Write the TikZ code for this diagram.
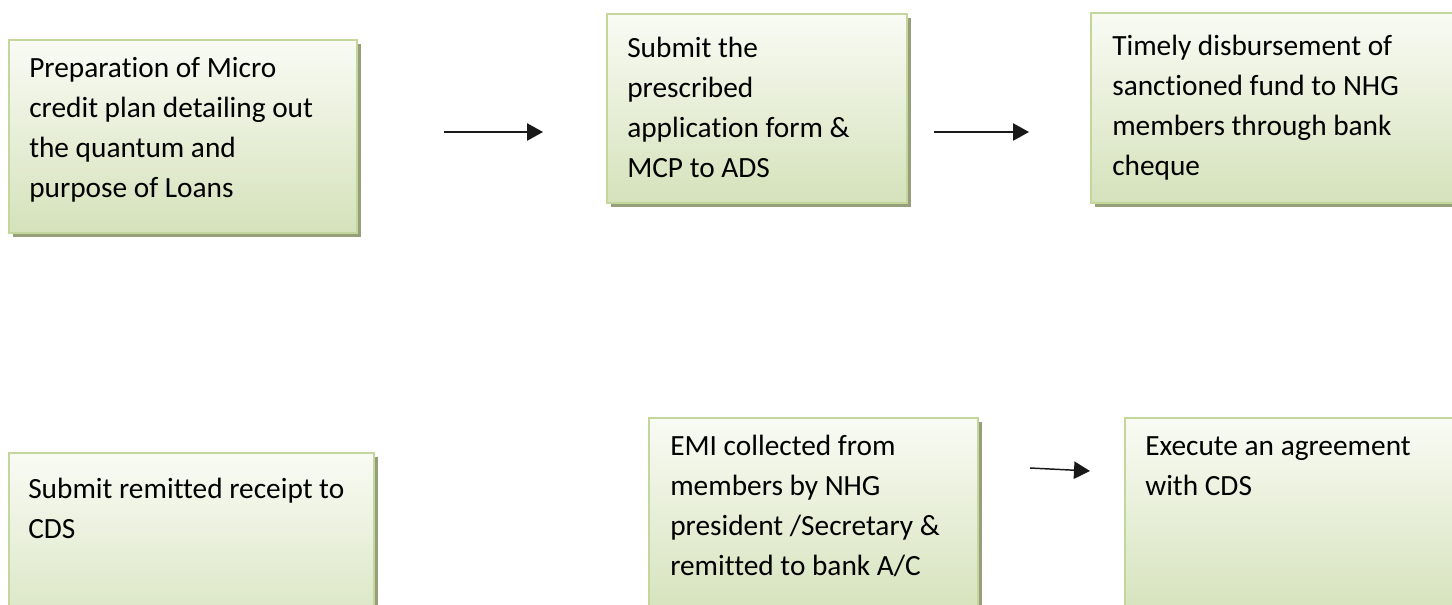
\documentclass[tikz,border=0pt]{standalone}
\usepackage{fontspec}
\setmainfont{Carlito}[Ligatures=NoCommon]
\usetikzlibrary{arrows.meta,shadows}

\definecolor{boxtop}{RGB}{249,251,244}
\definecolor{boxbot}{RGB}{213,226,187}
\definecolor{boxline}{RGB}{195,214,155}
\definecolor{boxshadow}{RGB}{150,158,122}
\definecolor{arrowcol}{RGB}{25,25,25}

% left-aligned block of lines whose reference point is the first baseline
\newcommand\boxlines[1]{\begin{tabular}[t]{@{}l@{}}#1\end{tabular}}

\tikzset{
  stepbox/.style={draw=boxline, line width=1.5pt, top color=boxtop, bottom color=boxbot,
    anchor=north west, inner sep=0pt,
    drop shadow={shadow xshift=3pt, shadow yshift=-3pt, fill=boxshadow, opacity=1}},
  steptext/.style={anchor=base west, inner sep=0pt, text=black,
    font=\fontsize{22}{30}\selectfont},
  flow/.style={draw=arrowcol, line width=1.1pt, -{Triangle[length=12pt,width=13pt]}},
}

\begin{document}
\begin{tikzpicture}[x=0.75pt, y=-0.75pt]
\useasboundingbox (0,0) rectangle (1452,604);
\clip (0,0) rectangle (1452,604);

% upper row
\node[stepbox, minimum width=348*0.75pt, minimum height=193*0.75pt] (b1) at (8,39) {};
\node[stepbox, minimum width=300*0.75pt, minimum height=189*0.75pt] (b2) at (606,13) {};
\node[stepbox, minimum width=380*0.75pt, minimum height=190*0.75pt] (b3) at (1090,12) {};

% lower row
\node[stepbox, minimum width=365*0.75pt, minimum height=200*0.75pt] (b4) at (8,452) {};
\node[stepbox, minimum width=329*0.75pt, minimum height=200*0.75pt] (b5) at (648,417) {};
\node[stepbox, minimum width=350*0.75pt, minimum height=200*0.75pt] (b6) at (1124,417) {};

% texts
\node[steptext] (t1) at ([shift={(21,38)}]b1.north west)
  {\boxlines{Preparation of Micro\\credit plan detailing out\\the quantum and\\purpose of Loans}};
\node[steptext] (t2) at ([shift={(21,44)}]b2.north west)
  {\boxlines{Submit the\\prescribed\\application form \&\\MCP to ADS}};
\node[steptext] (t3) at ([shift={(22,43)}]b3.north west)
  {\boxlines{Timely disbursement of\\sanctioned fund to NHG\\members through bank\\cheque}};
\node[steptext] (t4) at ([shift={(20,46)}]b4.north west)
  {\boxlines{Submit remitted receipt to\\CDS}};
\node[steptext] (t5) at ([shift={(22,38)}]b5.north west)
  {\boxlines{EMI collected from\\members by NHG\\president /Secretary \&\\remitted to bank A/C}};
\node[steptext] (t6) at ([shift={(21,38)}]b6.north west)
  {\boxlines{Execute an agreement\\with CDS}};

% connectors
\coordinate (a1s) at (444,132);
\coordinate (a1e) at (543,132);
\coordinate (a2s) at (934,132);
\coordinate (a2e) at (1029,132);
\coordinate (a3s) at (1030,468);
\coordinate (a3e) at (1090,471);
\draw[flow] (a1s) -- (a1e);
\draw[flow] (a2s) -- (a2e);
\draw[flow] (a3s) -- (a3e);
\end{tikzpicture}
\end{document}
